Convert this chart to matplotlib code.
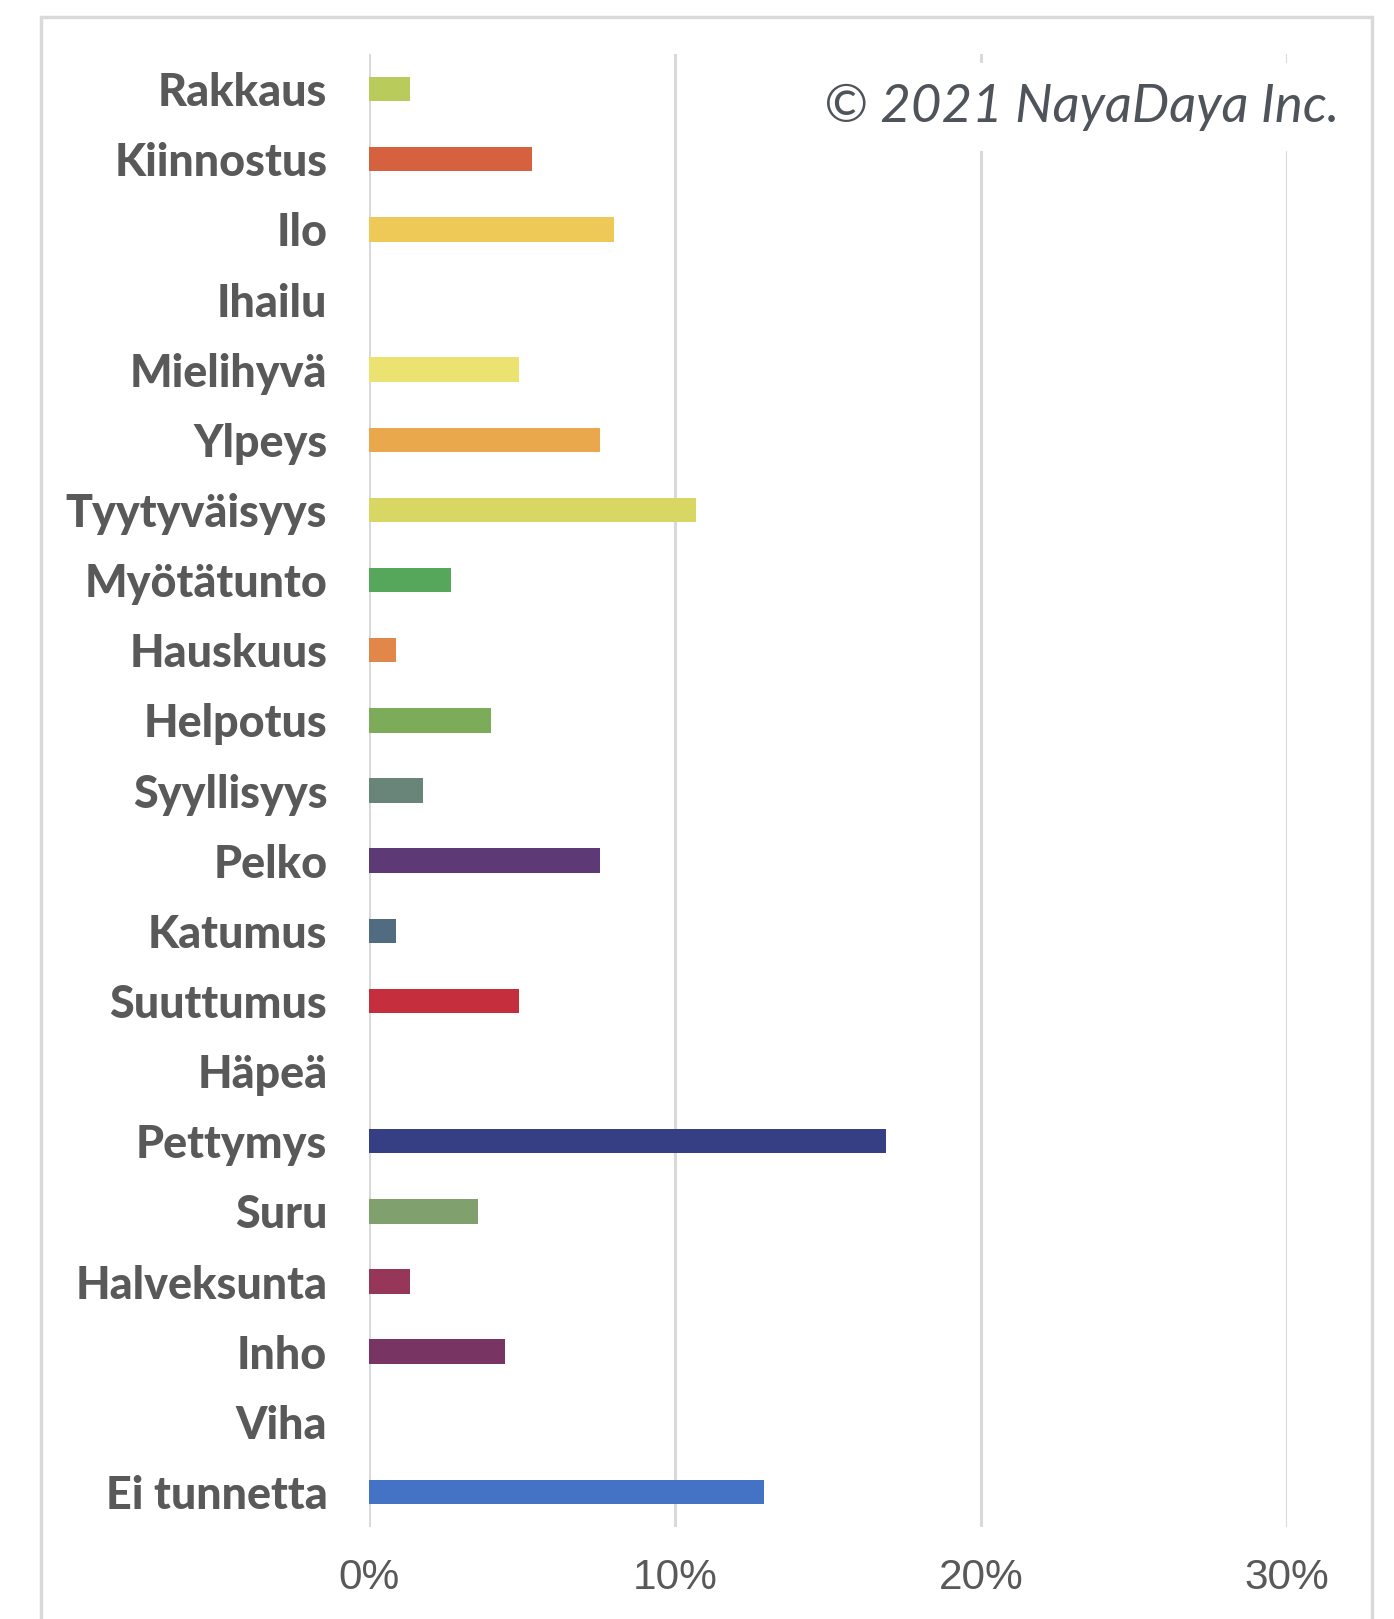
import matplotlib
matplotlib.use("Agg")
import matplotlib.pyplot as plt
from matplotlib.patches import Rectangle
from matplotlib.ticker import FuncFormatter

# --- data ---------------------------------------------------------------
emotions = [
    "Rakkaus", "Kiinnostus", "Ilo", "Ihailu", "Mielihyvä", "Ylpeys",
    "Tyytyväisyys", "Myötätunto", "Hauskuus", "Helpotus", "Syyllisyys",
    "Pelko", "Katumus", "Suuttumus", "Häpeä", "Pettymys", "Suru",
    "Halveksunta", "Inho", "Viha", "Ei tunnetta",
]
shares = [
    1.33, 5.33, 8.0, 0.0, 4.89, 7.56,
    10.67, 2.67, 0.89, 4.0, 1.78,
    7.56, 0.89, 4.89, 0.0, 16.9, 3.56,
    1.33, 4.44, 0.0, 12.9,
]
colors = [
    "#b9cb5a", "#d6613e", "#eec958", "#ffffff", "#ebe272", "#eaa84d",
    "#d9d763", "#56a75b", "#e1874a", "#7cab5a", "#69857a",
    "#5d3a75", "#516b80", "#c52e3d", "#ffffff", "#373f84", "#80a16d",
    "#963658", "#783563", "#ffffff", "#4472c4",
]
xticks = [0, 10, 20, 30]

GRID = "#d9d9d9"
TEXT = "#595959"

W, H = 1394, 1619
fig = plt.figure(figsize=(W / 100, H / 100), dpi=100)

# plot area in pixel terms
left, right, top, bottom = 369, 1287, 54, 1527
ax = fig.add_axes([left / W, 1 - bottom / H, (right - left) / W, (bottom - top) / H])

ypos = list(range(len(emotions)))
ax.barh(ypos, shares, height=0.35, color=colors, zorder=3)

ax.set_xlim(0, 30)
ax.set_ylim(len(emotions) - 0.5, -0.5)
ax.set_xticks(xticks)
ax.xaxis.set_major_formatter(FuncFormatter(lambda v, _: f"{v:.0f}%"))
ax.set_yticks(ypos)
ax.set_yticklabels(emotions, fontfamily="Lato", fontweight="black", fontsize=32.3, color=TEXT)
ax.tick_params(axis="y", length=0, pad=30)
ax.tick_params(axis="x", length=0, pad=22, labelsize=30.5, labelcolor=TEXT)
for lab in ax.get_xticklabels():
    lab.set_fontfamily("Liberation Sans")
for s in ax.spines.values():
    s.set_visible(False)
ax.grid(axis="x", color=GRID, linewidth=2.2, zorder=1)
ax.grid(axis="y", visible=False)

# outer chart border (runs off the bottom of the picture)
fig.patches.append(Rectangle((41 / W, -0.05), (1372 - 41) / W, 1.05 - 17 / H,
                             transform=fig.transFigure, fill=False,
                             edgecolor=GRID, linewidth=2.5))

fig.text(1339 / W, 1 - 122 / H, "© 2021 NayaDaya Inc.", ha="right", va="baseline",
         fontfamily="Lato", fontstyle="italic", fontsize=38, color="#4f545a",
         bbox=dict(facecolor="white", edgecolor="none", pad=14), zorder=5)

fig.savefig("out.png", dpi=100, facecolor="white")
